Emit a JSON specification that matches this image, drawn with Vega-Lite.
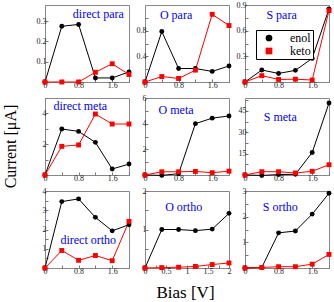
{
  "$schema": "https://vega.github.io/schema/vega-lite/v6.json",
  "background": "white",
  "padding": {"left": 1, "top": 0, "right": 0, "bottom": 0},
  "datasets": {
    "d": [
      {"p":"dp","s":"enol","x":0,"y":0},{"p":"dp","s":"enol","x":0.4,"y":0.275},{"p":"dp","s":"enol","x":0.8,"y":0.284},{"p":"dp","s":"enol","x":1.2,"y":0.02},{"p":"dp","s":"enol","x":1.6,"y":0.02},{"p":"dp","s":"enol","x":2,"y":0.05},
      {"p":"dp","s":"keto","x":0,"y":0},{"p":"dp","s":"keto","x":0.4,"y":0},{"p":"dp","s":"keto","x":0.8,"y":0},{"p":"dp","s":"keto","x":1.2,"y":0.048},{"p":"dp","s":"keto","x":1.6,"y":0.09},{"p":"dp","s":"keto","x":2,"y":0.037},
      {"p":"op","s":"enol","x":0,"y":0},{"p":"op","s":"enol","x":0.4,"y":0.786},{"p":"op","s":"enol","x":0.8,"y":0.21},{"p":"op","s":"enol","x":1.2,"y":0.21},{"p":"op","s":"enol","x":1.6,"y":0.165},{"p":"op","s":"enol","x":2,"y":0.25},
      {"p":"op","s":"keto","x":0,"y":0},{"p":"op","s":"keto","x":0.4,"y":0.085},{"p":"op","s":"keto","x":0.8,"y":0.055},{"p":"op","s":"keto","x":1.2,"y":0.185},{"p":"op","s":"keto","x":1.6,"y":1.055},{"p":"op","s":"keto","x":2,"y":0.88},
      {"p":"sp","s":"enol","x":0,"y":0},{"p":"sp","s":"enol","x":0.4,"y":0.14},{"p":"sp","s":"enol","x":0.8,"y":0.1},{"p":"sp","s":"enol","x":1.2,"y":0.136},{"p":"sp","s":"enol","x":1.6,"y":0.276},{"p":"sp","s":"enol","x":2,"y":0.855},
      {"p":"sp","s":"keto","x":0,"y":0},{"p":"sp","s":"keto","x":0.4,"y":0.074},{"p":"sp","s":"keto","x":0.8,"y":0.03},{"p":"sp","s":"keto","x":1.2,"y":0.033},{"p":"sp","s":"keto","x":1.6,"y":0.023},{"p":"sp","s":"keto","x":2,"y":0.835},
      {"p":"dm","s":"enol","x":0,"y":0},{"p":"dm","s":"enol","x":0.4,"y":2.99},{"p":"dm","s":"enol","x":0.8,"y":2.83},{"p":"dm","s":"enol","x":1.2,"y":2.12},{"p":"dm","s":"enol","x":1.6,"y":0.39},{"p":"dm","s":"enol","x":2,"y":0.71},
      {"p":"dm","s":"keto","x":0,"y":0},{"p":"dm","s":"keto","x":0.4,"y":1.86},{"p":"dm","s":"keto","x":0.8,"y":1.95},{"p":"dm","s":"keto","x":1.2,"y":3.96},{"p":"dm","s":"keto","x":1.6,"y":3.31},{"p":"dm","s":"keto","x":2,"y":3.31},
      {"p":"om","s":"enol","x":0,"y":0},{"p":"om","s":"enol","x":0.4,"y":-0.03},{"p":"om","s":"enol","x":0.8,"y":0.1},{"p":"om","s":"enol","x":1.2,"y":4.0},{"p":"om","s":"enol","x":1.6,"y":4.43},{"p":"om","s":"enol","x":2,"y":4.6},
      {"p":"om","s":"keto","x":0,"y":0},{"p":"om","s":"keto","x":0.4,"y":0.25},{"p":"om","s":"keto","x":0.8,"y":0.25},{"p":"om","s":"keto","x":1.2,"y":0.28},{"p":"om","s":"keto","x":1.6,"y":0.18},{"p":"om","s":"keto","x":2,"y":0.3},
      {"p":"sm","s":"enol","x":0,"y":0},{"p":"sm","s":"enol","x":0.4,"y":-0.3},{"p":"sm","s":"enol","x":0.8,"y":0.3},{"p":"sm","s":"enol","x":1.2,"y":0.5},{"p":"sm","s":"enol","x":1.6,"y":15.8},{"p":"sm","s":"enol","x":2,"y":50.5},
      {"p":"sm","s":"keto","x":0,"y":0},{"p":"sm","s":"keto","x":0.4,"y":2.3},{"p":"sm","s":"keto","x":0.8,"y":2.3},{"p":"sm","s":"keto","x":1.2,"y":1.4},{"p":"sm","s":"keto","x":1.6,"y":2.6},{"p":"sm","s":"keto","x":2,"y":7.2},
      {"p":"do","s":"enol","x":0,"y":0},{"p":"do","s":"enol","x":0.4,"y":3.45},{"p":"do","s":"enol","x":0.8,"y":3.59},{"p":"do","s":"enol","x":1.2,"y":2.63},{"p":"do","s":"enol","x":1.6,"y":1.93},{"p":"do","s":"enol","x":2,"y":2.25},
      {"p":"do","s":"keto","x":0,"y":0},{"p":"do","s":"keto","x":0.4,"y":0.91},{"p":"do","s":"keto","x":0.8,"y":0.4},{"p":"do","s":"keto","x":1.2,"y":0.65},{"p":"do","s":"keto","x":1.6,"y":0.38},{"p":"do","s":"keto","x":2,"y":2.42},
      {"p":"oo","s":"enol","x":0,"y":0},{"p":"oo","s":"enol","x":0.4,"y":1.0},{"p":"oo","s":"enol","x":0.8,"y":1.0},{"p":"oo","s":"enol","x":1.2,"y":0.97},{"p":"oo","s":"enol","x":1.6,"y":1.01},{"p":"oo","s":"enol","x":2,"y":1.42},
      {"p":"oo","s":"keto","x":0,"y":0},{"p":"oo","s":"keto","x":0.4,"y":0.01},{"p":"oo","s":"keto","x":0.8,"y":0.02},{"p":"oo","s":"keto","x":1.2,"y":0.04},{"p":"oo","s":"keto","x":1.6,"y":0.09},{"p":"oo","s":"keto","x":2,"y":0.13},
      {"p":"so","s":"enol","x":0,"y":0},{"p":"so","s":"enol","x":0.4,"y":0.02},{"p":"so","s":"enol","x":0.8,"y":1.37},{"p":"so","s":"enol","x":1.2,"y":1.44},{"p":"so","s":"enol","x":1.6,"y":2.1},{"p":"so","s":"enol","x":2,"y":2.91},
      {"p":"so","s":"keto","x":0,"y":0},{"p":"so","s":"keto","x":0.4,"y":0.02},{"p":"so","s":"keto","x":0.8,"y":0.05},{"p":"so","s":"keto","x":1.2,"y":0.05},{"p":"so","s":"keto","x":1.6,"y":0.15},{"p":"so","s":"keto","x":2,"y":0.53}
    ]
  },
  "columns": 3,
  "spacing": {"row": 16, "column": 16},
  "bounds": "flush",
  "resolve": {"scale": {"color": "independent", "shape": "independent"}, "legend": {"color": "independent", "shape": "independent"}},
  "concat": [
    {
      "width": 84, "height": 77,
      "data": {"name": "d"}, "transform": [{"filter": "datum.p === 'dp'"}],
      "encoding": {
        "x": {"field": "x", "type": "quantitative", "scale": {"domain": [0, 2], "nice": false}, "axis": {"values": [0,0.4,0.8,1.2,1.6,2], "labelExpr": "indexof([0,0.8,1.6], datum.value) >= 0 ? format(datum.value, '~g') : ''", "title": null}},
        "y": {"field": "y", "type": "quantitative", "scale": {"domain": [0, 0.38], "nice": false, "zero": false}, "axis": {"values": [0,0.1,0.2,0.3], "labelExpr": "format(datum.value, '~g')", "title": null}}
      },
      "layer": [
        {"mark": {"type": "line", "strokeWidth": 1}, "encoding": {"color": {"field": "s", "type": "nominal", "scale": {"domain": ["enol","keto"], "range": ["#000000","#ff0000"]}, "legend": null}}},
        {"mark": {"type": "point", "filled": true, "opacity": 1, "size": 24, "strokeWidth": 0}, "encoding": {"color": {"field": "s", "type": "nominal", "scale": {"domain": ["enol","keto"], "range": ["#000000","#ff0000"]}, "legend": null}, "shape": {"field": "s", "type": "nominal", "scale": {"domain": ["enol","keto"], "range": ["circle","square"]}, "legend": null}}},
        {"transform": [{"filter": "datum.s === 'enol' && datum.x === 0"}], "mark": {"type": "text", "text": "direct para", "font": "Liberation Serif", "fontSize": 12, "color": "#0000ff", "align": "center", "baseline": "middle"}, "encoding": {"x": {"datum": 1.27}, "y": {"datum": 0.335}}}
      ]
    },
    {
      "width": 84, "height": 77,
      "data": {"name": "d"}, "transform": [{"filter": "datum.p === 'op'"}],
      "encoding": {
        "x": {"field": "x", "type": "quantitative", "scale": {"domain": [0, 2], "nice": false}, "axis": {"values": [0,0.4,0.8,1.2,1.6,2], "labelExpr": "indexof([0,0.8,1.6], datum.value) >= 0 ? format(datum.value, '~g') : ''", "title": null}},
        "y": {"field": "y", "type": "quantitative", "scale": {"domain": [0, 1.2], "nice": false, "zero": false}, "axis": {"values": [0,0.2,0.4,0.6,0.8,1.0], "labelExpr": "indexof([0,0.4,0.8], datum.value) >= 0 ? format(datum.value, '~g') : ''", "title": null}}
      },
      "layer": [
        {"mark": {"type": "line", "strokeWidth": 1}, "encoding": {"color": {"field": "s", "type": "nominal", "scale": {"domain": ["enol","keto"], "range": ["#000000","#ff0000"]}, "legend": null}}},
        {"mark": {"type": "point", "filled": true, "opacity": 1, "size": 24, "strokeWidth": 0}, "encoding": {"color": {"field": "s", "type": "nominal", "scale": {"domain": ["enol","keto"], "range": ["#000000","#ff0000"]}, "legend": null}, "shape": {"field": "s", "type": "nominal", "scale": {"domain": ["enol","keto"], "range": ["circle","square"]}, "legend": null}}},
        {"transform": [{"filter": "datum.s === 'enol' && datum.x === 0"}], "mark": {"type": "text", "text": "O para", "font": "Liberation Serif", "fontSize": 12, "color": "#0000ff", "align": "center", "baseline": "middle"}, "encoding": {"x": {"datum": 0.74}, "y": {"datum": 1.04}}}
      ]
    },
    {
      "width": 84, "height": 77,
      "data": {"name": "d"}, "transform": [{"filter": "datum.p === 'sp'"}],
      "encoding": {
        "x": {"field": "x", "type": "quantitative", "scale": {"domain": [0, 2], "nice": false}, "axis": {"values": [0,0.4,0.8,1.2,1.6,2], "labelExpr": "indexof([0,0.8,1.6], datum.value) >= 0 ? format(datum.value, '~g') : ''", "title": null}},
        "y": {"field": "y", "type": "quantitative", "scale": {"domain": [0, 0.9], "nice": false, "zero": false}, "axis": {"values": [0,0.15,0.3,0.45,0.6,0.75,0.9], "labelExpr": "indexof([0,0.3,0.6,0.9], datum.value) >= 0 ? format(datum.value, '~g') : ''", "title": null}}
      },
      "layer": [
        {"mark": {"type": "line", "strokeWidth": 1}, "encoding": {"color": {"field": "s", "type": "nominal", "scale": {"domain": ["enol","keto"], "range": ["#000000","#ff0000"]}}}},
        {"mark": {"type": "point", "filled": true, "opacity": 1, "size": 24, "strokeWidth": 0}, "encoding": {
          "color": {"field": "s", "type": "nominal", "scale": {"domain": ["enol","keto"], "range": ["#000000","#ff0000"]}, "legend": {
            "orient": "none", "legendX": 11, "legendY": 25, "title": null, "direction": "vertical",
            "labelFont": "Liberation Serif", "labelFontSize": 12, "labelColor": "#000000",
            "symbolSize": 45, "symbolOffset": 5, "labelOffset": 15, "symbolStrokeWidth": 0, "rowPadding": 1,
            "strokeColor": "#000000", "fillColor": "#ffffff", "padding": 2
          }},
          "shape": {"field": "s", "type": "nominal", "scale": {"domain": ["enol","keto"], "range": ["circle","square"]}, "legend": null}}},
        {"transform": [{"filter": "datum.s === 'enol' && datum.x === 0"}], "mark": {"type": "text", "text": "S para", "font": "Liberation Serif", "fontSize": 12, "color": "#0000ff", "align": "center", "baseline": "middle"}, "encoding": {"x": {"datum": 0.87}, "y": {"datum": 0.78}}}
      ]
    },
    {
      "width": 84, "height": 77,
      "data": {"name": "d"}, "transform": [{"filter": "datum.p === 'dm'"}],
      "encoding": {
        "x": {"field": "x", "type": "quantitative", "scale": {"domain": [0, 2], "nice": false}, "axis": {"values": [0,0.4,0.8,1.2,1.6,2], "labelExpr": "indexof([0,0.8,1.6], datum.value) >= 0 ? format(datum.value, '~g') : ''", "title": null}},
        "y": {"field": "y", "type": "quantitative", "scale": {"domain": [0, 5], "nice": false, "zero": false}, "axis": {"values": [0,1,2,3,4,5], "labelExpr": "indexof([0,2,4], datum.value) >= 0 ? format(datum.value, '~g') : ''", "title": "Current [μA]", "titleFont": "Liberation Serif", "titleFontSize": 16, "titleFontWeight": "normal", "titleColor": "#000000", "titleX": -27, "titleY": 48}}
      },
      "layer": [
        {"mark": {"type": "line", "strokeWidth": 1}, "encoding": {"color": {"field": "s", "type": "nominal", "scale": {"domain": ["enol","keto"], "range": ["#000000","#ff0000"]}, "legend": null}}},
        {"mark": {"type": "point", "filled": true, "opacity": 1, "size": 24, "strokeWidth": 0}, "encoding": {"color": {"field": "s", "type": "nominal", "scale": {"domain": ["enol","keto"], "range": ["#000000","#ff0000"]}, "legend": null}, "shape": {"field": "s", "type": "nominal", "scale": {"domain": ["enol","keto"], "range": ["circle","square"]}, "legend": null}}},
        {"transform": [{"filter": "datum.s === 'enol' && datum.x === 0"}], "mark": {"type": "text", "text": "direct meta", "font": "Liberation Serif", "fontSize": 12, "color": "#0000ff", "align": "center", "baseline": "middle"}, "encoding": {"x": {"datum": 0.84}, "y": {"datum": 4.5}}}
      ]
    },
    {
      "width": 84, "height": 77,
      "data": {"name": "d"}, "transform": [{"filter": "datum.p === 'om'"}],
      "encoding": {
        "x": {"field": "x", "type": "quantitative", "scale": {"domain": [0, 2], "nice": false}, "axis": {"values": [0,0.4,0.8,1.2,1.6,2], "labelExpr": "indexof([0,0.8,1.6], datum.value) >= 0 ? format(datum.value, '~g') : ''", "title": null}},
        "y": {"field": "y", "type": "quantitative", "scale": {"domain": [0, 6], "nice": false, "zero": false}, "axis": {"values": [0,1,2,3,4,5,6], "labelExpr": "indexof([0,2,4,6], datum.value) >= 0 ? format(datum.value, '~g') : ''", "title": null}}
      },
      "layer": [
        {"mark": {"type": "line", "strokeWidth": 1}, "encoding": {"color": {"field": "s", "type": "nominal", "scale": {"domain": ["enol","keto"], "range": ["#000000","#ff0000"]}, "legend": null}}},
        {"mark": {"type": "point", "filled": true, "opacity": 1, "size": 24, "strokeWidth": 0}, "encoding": {"color": {"field": "s", "type": "nominal", "scale": {"domain": ["enol","keto"], "range": ["#000000","#ff0000"]}, "legend": null}, "shape": {"field": "s", "type": "nominal", "scale": {"domain": ["enol","keto"], "range": ["circle","square"]}, "legend": null}}},
        {"transform": [{"filter": "datum.s === 'enol' && datum.x === 0"}], "mark": {"type": "text", "text": "O meta", "font": "Liberation Serif", "fontSize": 12, "color": "#0000ff", "align": "center", "baseline": "middle"}, "encoding": {"x": {"datum": 0.74}, "y": {"datum": 5.1}}}
      ]
    },
    {
      "width": 84, "height": 77,
      "data": {"name": "d"}, "transform": [{"filter": "datum.p === 'sm'"}],
      "encoding": {
        "x": {"field": "x", "type": "quantitative", "scale": {"domain": [0, 2], "nice": false}, "axis": {"values": [0,0.4,0.8,1.2,1.6,2], "labelExpr": "indexof([0,0.8,1.6], datum.value) >= 0 ? format(datum.value, '~g') : ''", "title": null}},
        "y": {"field": "y", "type": "quantitative", "scale": {"domain": [0, 54], "nice": false, "zero": false}, "axis": {"values": [0,7.5,15,22.5,30,37.5,45,52.5], "labelExpr": "indexof([0,15,30,45], datum.value) >= 0 ? format(datum.value, '~g') : ''", "title": null}}
      },
      "layer": [
        {"mark": {"type": "line", "strokeWidth": 1}, "encoding": {"color": {"field": "s", "type": "nominal", "scale": {"domain": ["enol","keto"], "range": ["#000000","#ff0000"]}, "legend": null}}},
        {"mark": {"type": "point", "filled": true, "opacity": 1, "size": 24, "strokeWidth": 0}, "encoding": {"color": {"field": "s", "type": "nominal", "scale": {"domain": ["enol","keto"], "range": ["#000000","#ff0000"]}, "legend": null}, "shape": {"field": "s", "type": "nominal", "scale": {"domain": ["enol","keto"], "range": ["circle","square"]}, "legend": null}}},
        {"transform": [{"filter": "datum.s === 'enol' && datum.x === 0"}], "mark": {"type": "text", "text": "S meta", "font": "Liberation Serif", "fontSize": 12, "color": "#0000ff", "align": "center", "baseline": "middle"}, "encoding": {"x": {"datum": 0.84}, "y": {"datum": 41}}}
      ]
    },
    {
      "width": 84, "height": 77,
      "data": {"name": "d"}, "transform": [{"filter": "datum.p === 'do'"}],
      "encoding": {
        "x": {"field": "x", "type": "quantitative", "scale": {"domain": [0, 2], "nice": false}, "axis": {"values": [0,0.4,0.8,1.2,1.6,2], "labelExpr": "indexof([0,0.8,1.6], datum.value) >= 0 ? format(datum.value, '~g') : ''", "title": null}},
        "y": {"field": "y", "type": "quantitative", "scale": {"domain": [0, 4], "nice": false, "zero": false}, "axis": {"values": [0,0.5,1,1.5,2,2.5,3,3.5,4], "labelExpr": "indexof([0,1,2,3,4], datum.value) >= 0 ? format(datum.value, '~g') : ''", "title": null}}
      },
      "layer": [
        {"mark": {"type": "line", "strokeWidth": 1}, "encoding": {"color": {"field": "s", "type": "nominal", "scale": {"domain": ["enol","keto"], "range": ["#000000","#ff0000"]}, "legend": null}}},
        {"mark": {"type": "point", "filled": true, "opacity": 1, "size": 24, "strokeWidth": 0}, "encoding": {"color": {"field": "s", "type": "nominal", "scale": {"domain": ["enol","keto"], "range": ["#000000","#ff0000"]}, "legend": null}, "shape": {"field": "s", "type": "nominal", "scale": {"domain": ["enol","keto"], "range": ["circle","square"]}, "legend": null}}},
        {"transform": [{"filter": "datum.s === 'enol' && datum.x === 0"}], "mark": {"type": "text", "text": "direct ortho", "font": "Liberation Serif", "fontSize": 12, "color": "#0000ff", "align": "center", "baseline": "middle"}, "encoding": {"x": {"datum": 1.03}, "y": {"datum": 1.48}}}
      ]
    },
    {
      "width": 84, "height": 77,
      "data": {"name": "d"}, "transform": [{"filter": "datum.p === 'oo'"}],
      "encoding": {
        "x": {"field": "x", "type": "quantitative", "scale": {"domain": [0, 2], "nice": false}, "axis": {"values": [0,0.25,0.5,0.75,1,1.25,1.5,1.75,2], "labelExpr": "indexof([0,0.5,1,1.5,2], datum.value) >= 0 ? format(datum.value, '~g') : ''", "title": "Bias [V]", "titleFont": "Liberation Serif", "titleFontSize": 17, "titleFontWeight": "normal", "titleColor": "#000000", "titleX": 40, "titleY": 16}},
        "y": {"field": "y", "type": "quantitative", "scale": {"domain": [0, 2], "nice": false, "zero": false}, "axis": {"values": [0,0.5,1,1.5,2], "labelExpr": "indexof([0,1,2], datum.value) >= 0 ? format(datum.value, '~g') : ''", "title": null}}
      },
      "layer": [
        {"mark": {"type": "line", "strokeWidth": 1}, "encoding": {"color": {"field": "s", "type": "nominal", "scale": {"domain": ["enol","keto"], "range": ["#000000","#ff0000"]}, "legend": null}}},
        {"mark": {"type": "point", "filled": true, "opacity": 1, "size": 24, "strokeWidth": 0}, "encoding": {"color": {"field": "s", "type": "nominal", "scale": {"domain": ["enol","keto"], "range": ["#000000","#ff0000"]}, "legend": null}, "shape": {"field": "s", "type": "nominal", "scale": {"domain": ["enol","keto"], "range": ["circle","square"]}, "legend": null}}},
        {"transform": [{"filter": "datum.s === 'enol' && datum.x === 0"}], "mark": {"type": "text", "text": "O ortho", "font": "Liberation Serif", "fontSize": 12, "color": "#0000ff", "align": "center", "baseline": "middle"}, "encoding": {"x": {"datum": 0.92}, "y": {"datum": 1.59}}}
      ]
    },
    {
      "width": 84, "height": 77,
      "data": {"name": "d"}, "transform": [{"filter": "datum.p === 'so'"}],
      "encoding": {
        "x": {"field": "x", "type": "quantitative", "scale": {"domain": [0, 2], "nice": false}, "axis": {"values": [0,0.4,0.8,1.2,1.6,2], "labelExpr": "indexof([0,0.8,1.6], datum.value) >= 0 ? format(datum.value, '~g') : ''", "title": null}},
        "y": {"field": "y", "type": "quantitative", "scale": {"domain": [0, 3], "nice": false, "zero": false}, "axis": {"values": [0,0.5,1,1.5,2,2.5,3], "labelExpr": "indexof([0,1,2,3], datum.value) >= 0 ? format(datum.value, '~g') : ''", "title": null}}
      },
      "layer": [
        {"mark": {"type": "line", "strokeWidth": 1}, "encoding": {"color": {"field": "s", "type": "nominal", "scale": {"domain": ["enol","keto"], "range": ["#000000","#ff0000"]}, "legend": null}}},
        {"mark": {"type": "point", "filled": true, "opacity": 1, "size": 24, "strokeWidth": 0}, "encoding": {"color": {"field": "s", "type": "nominal", "scale": {"domain": ["enol","keto"], "range": ["#000000","#ff0000"]}, "legend": null}, "shape": {"field": "s", "type": "nominal", "scale": {"domain": ["enol","keto"], "range": ["circle","square"]}, "legend": null}}},
        {"transform": [{"filter": "datum.s === 'enol' && datum.x === 0"}], "mark": {"type": "text", "text": "S ortho", "font": "Liberation Serif", "fontSize": 12, "color": "#0000ff", "align": "center", "baseline": "middle"}, "encoding": {"x": {"datum": 0.84}, "y": {"datum": 2.38}}}
      ]
    }
  ],
  "config": {
    "view": {"stroke": "#888888", "strokeWidth": 1},
    "axis": {"labelFont": "Liberation Serif", "labelFontSize": 8, "labelColor": "#222222", "tickColor": "#777777", "tickSize": -3, "domain": false, "grid": false, "labelPadding": 2, "labelOverlap": false, "labelFlush": false}
  }
}
